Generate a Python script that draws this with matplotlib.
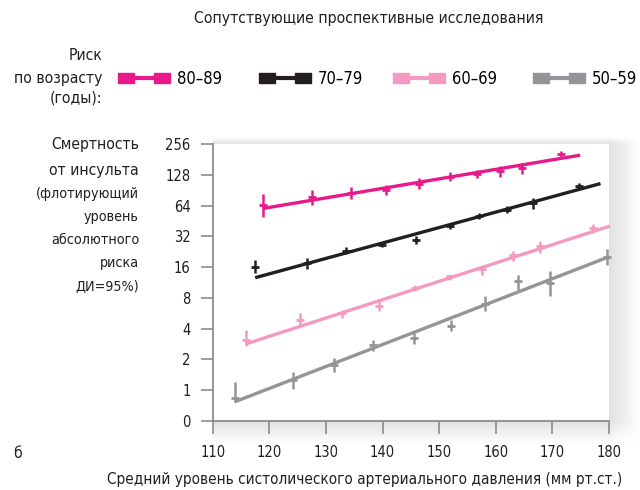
import numpy as np
import matplotlib.pyplot as plt
from matplotlib.lines import Line2D
from matplotlib import font_manager

# ── fonts: prefer a condensed face, the original uses one ────────────────────
ttf = font_manager.fontManager.ttflist
names = {f.name for f in ttf}
if "Liberation Sans Narrow" in names:
    plt.rcParams["font.family"] = ["Liberation Sans Narrow", "DejaVu Sans"]
elif any(f.name == "DejaVu Sans" and "condensed" in str(f.stretch) for f in ttf):
    plt.rcParams["font.family"] = ["DejaVu Sans"]
    plt.rcParams["font.stretch"] = "condensed"
else:
    plt.rcParams["font.family"] = ["Liberation Sans", "DejaVu Sans"]

# ── data ─────────────────────────────────────────────────────────────────────
groups = ["80–89", "70–79", "60–69", "50–59"]
colors = ["#e8198b", "#231f20", "#f49ac1", "#939598"]

sbp_80 = [118.8, 127.6, 134.5, 140.6, 146.4, 151.9, 156.6, 160.7, 164.6, 171.5]
risk_80 = [64.5, 77, 84.5, 91.5, 105, 123, 130, 139, 149, 204]
lo_80 = [49.5, 64.9, 73.8, 81.4, 92.5, 110.9, 118.6, 121.3, 129.9, 189.5]
hi_80 = [82.7, 90.4, 96.8, 101.3, 118.6, 135.9, 143.1, 155.6, 166.6, 220]

sbp_70 = [117.5, 126.6, 133.5, 139.9, 145.9, 151.9, 157.0, 162.0, 166.5, 174.7]
risk_70 = [16.2, 17.5, 23.1, 26.5, 29.3, 40.1, 51, 58.5, 67.5, 99]
lo_70 = [14.1, 15.4, 21.3, 25.4, 26.7, 38.1, 47.7, 53.8, 59.8, 92.5]
hi_70 = [18.7, 19.8, 25.1, 27.7, 32.2, 41.9, 54.6, 63.4, 75.5, 105.3]

sbp_60 = [115.8, 125.5, 132.8, 139.4, 145.8, 152.0, 157.5, 163.0, 167.9, 177.1]
risk_60 = [3.11, 4.9, 5.67, 6.7, 10.1, 13, 15.2, 20.8, 25.5, 38.3]
lo_60 = [2.68, 4.21, 5.10, 5.91, 9.29, 12.1, 13.3, 18.3, 22.1, 34.8]
hi_60 = [3.91, 5.70, 6.14, 7.41, 10.8, 13.5, 16.3, 23.0, 28.8, 41.9]

sbp_50 = [113.9, 124.1, 131.5, 138.4, 145.5, 152.1, 158.1, 164.0, 169.5, 179.7]
risk_50 = [0.84, 1.26, 1.77, 2.75, 3.27, 4.28, 7.0, 11.6, 11.1, 20.1]
lo_50 = [0.76, 1.02, 1.52, 2.40, 2.85, 3.76, 5.91, 9.65, 8.30, 16.6]
hi_50 = [1.21, 1.52, 2.06, 3.12, 3.63, 4.90, 8.30, 13.5, 14.6, 24.2]

# fitted lines: endpoints
fit_x = [[118.85, 174.9], [117.5, 178.5], [115.8, 180.2], [113.9, 180.0]]
fit_y = [[59.9, 199], [12.6, 105], [2.83, 40.4], [0.77, 20.2]]

y_ticks = [0.5, 1, 2, 4, 8, 16, 32, 64, 128, 256]
y_tick_labels = ["0", "1", "2", "4", "8", "16", "32", "64", "128", "256"]
x_ticks = [110, 120, 130, 140, 150, 160, 170, 180]

series = [
    (sbp_80, risk_80, lo_80, hi_80),
    (sbp_70, risk_70, lo_70, hi_70),
    (sbp_60, risk_60, lo_60, hi_60),
    (sbp_50, risk_50, lo_50, hi_50),
]

# ── layout helpers (pixel -> figure fraction) ────────────────────────────────
W, H = 640, 490
def fx(px): return px / W
def fy(py): return 1 - py / H

fig = plt.figure(figsize=(6.4, 4.9), dpi=100)
renderer = fig.canvas.get_renderer()

def fit_width(t, target):
    """scale a text's font size so it spans `target` pixels."""
    w = t.get_window_extent(renderer).width
    t.set_fontsize(t.get_fontsize() * target / w)
    return t.get_fontsize()

# soft grey shadow behind the plot area
L, R, T, B = 212.7, 609.0, 144.0, 421.0
bx0, bx1, by0, by1 = 200, 640, 120, 460
bg = fig.add_axes([fx(bx0), fy(by1), (bx1 - bx0) / W, (by1 - by0) / H])
xx, yy = np.meshgrid(np.arange(bx0, bx1) + 0.5, np.arange(by0, by1) + 0.5)
a = np.ones_like(xx)
a *= np.clip(1 - np.maximum(0, xx - R) / 32, 0, 1)
a *= np.clip(1 - np.maximum(0, yy - B) / 22, 0, 1)
a *= np.clip(1 - np.maximum(0, T - yy) / 7, 0, 1)
a[xx < L] = 0
img = np.zeros(xx.shape + (4,))
img[..., :3] = 0.885
img[..., 3] = a
bg.imshow(img, aspect="auto", interpolation="bilinear")
bg.axis("off")

ax = fig.add_axes([fx(L), fy(B), (R - L) / W, (B - T) / H])
ax.set_facecolor("white")

for (xs, ys, lo, hi), c, fxs, fys in zip(series, colors, fit_x, fit_y):
    ys = np.array(ys)
    yerr = [ys - np.array(lo), np.array(hi) - ys]
    ax.plot(fxs, fys, color=c, lw=2.4, solid_capstyle="butt", clip_on=False, zorder=3)
    ax.errorbar(xs, ys, yerr=yerr, fmt="_", ms=6, mew=2, elinewidth=1.8,
                capsize=0, color=c, clip_on=False, zorder=4)

ax.set_yscale("log", base=2)
ax.set_ylim(0.5, 256)
ax.set_xlim(110, 180)
ax.set_yticks(y_ticks)
ax.set_yticklabels(y_tick_labels)
ax.yaxis.set_minor_locator(plt.NullLocator())
ax.set_xticks(x_ticks)

grey = "#8c8c8c"
txt = "#231f20"
for s in ["top", "right"]:
    ax.spines[s].set_visible(False)
for s in ["left", "bottom"]:
    ax.spines[s].set_color(grey)
    ax.spines[s].set_linewidth(1.3)

# tick label size from the width of "256" (~25 px in the original)
probe = fig.text(0, 0, "256", fontsize=12)
tick_fs = fit_width(probe, 25)
probe.remove()
ax.tick_params(direction="out", length=9, width=1.2, color=grey,
               labelsize=tick_fs, labelcolor=txt)
ax.tick_params(axis="y", pad=7)
ax.tick_params(axis="x", pad=8)

# ── legend ───────────────────────────────────────────────────────────────────
probe = fig.text(0, 0, "80–89", fontsize=12)
leg_fs = fit_width(probe, 45)
probe.remove()
rect = [(-1.5, -1), (1.5, -1), (1.5, 1), (-1.5, 1), (-1.5, -1)]
leg_x = [121, 262, 396, 536]
for g, c, lx in zip(groups, colors, leg_x):
    h = Line2D([], [], color=c, lw=3, marker=rect, ms=11, mec=c, mfc=c)
    fig.legend([h], [g], loc="center left", bbox_to_anchor=(fx(lx), fy(79)),
               frameon=False, numpoints=2, handlelength=46 / (leg_fs * 100 / 72),
               handletextpad=10 / (leg_fs * 100 / 72),
               borderpad=0, borderaxespad=0, fontsize=leg_fs)

t = fig.text(fx(369), fy(18), "Сопутствующие проспективные исследования",
             ha="center", va="center", fontsize=12, color=txt)
fit_width(t, 352)

t = fig.text(fx(102), fy(78), "по возрасту", ha="right", va="center",
             fontsize=12, color=txt)
risk_fs = fit_width(t, 88)
for s_, yy_ in zip(["Риск", "(годы):"], [56, 98]):
    fig.text(fx(102), fy(yy_), s_, ha="right", va="center", fontsize=risk_fs, color=txt)

t = fig.text(fx(139), fy(145), "Смертность", ha="right", va="center",
             fontsize=12, color=txt)
big_fs = fit_width(t, 88)
fig.text(fx(139), fy(170), "от инсульта", ha="right", va="center",
         fontsize=big_fs, color=txt)
t = fig.text(fx(139), fy(194), "(флотирующий", ha="right", va="center",
             fontsize=12, color=txt)
small_fs = fit_width(t, 103)
for s_, yy_ in zip(["уровень", "абсолютного", "риска", "ДИ=95%)"], [217, 240, 263, 286]):
    fig.text(fx(139), fy(yy_), s_, ha="right", va="center", fontsize=small_fs, color=txt)

fig.text(fx(18), fy(453), "б", ha="center", va="center", fontsize=big_fs, color=txt)
t = fig.text(fx(365), fy(479),
             "Средний уровень систолического артериального давления (мм рт.ст.)",
             ha="center", va="center", fontsize=12, color=txt)
fit_width(t, 515)

fig.savefig("out.png", dpi=100)
